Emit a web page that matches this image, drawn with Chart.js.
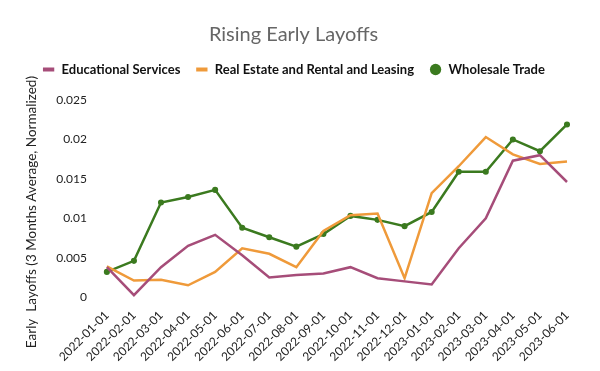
<!DOCTYPE html>
<html>
<head>
<meta charset="utf-8">
<script src="https://cdn.jsdelivr.net/npm/chart.js@4.4.0/dist/chart.umd.min.js"></script>
<style>
  html, body { margin: 0; padding: 0; background: #fff; }
  #wrap { width: 600px; height: 371px; }
</style>
</head>
<body>
<div id="wrap"><canvas id="chart"></canvas></div>
<script>
// Early layoffs, 3-month average, normalized
const months = ['2022-01-01', '2022-02-01', '2022-03-01', '2022-04-01', '2022-05-01', '2022-06-01',
    '2022-07-01', '2022-08-01', '2022-09-01', '2022-10-01', '2022-11-01', '2022-12-01',
    '2023-01-01', '2023-02-01', '2023-03-01', '2023-04-01', '2023-05-01', '2023-06-01'];

const educational = [0.0038, 0.00025, 0.0038, 0.0065, 0.0079, 0.0053, 0.0025, 0.0028, 0.0030,
    0.0038, 0.0024, 0.0020, 0.0016, 0.0062, 0.0100, 0.0173, 0.0180, 0.0146];
const realEstate = [0.0039, 0.0021, 0.0022, 0.0015, 0.0032, 0.0062, 0.0055, 0.0038, 0.0084,
    0.0104, 0.0106, 0.0024, 0.0132, 0.0166, 0.0203, 0.0181, 0.0169, 0.0172];
const wholesale = [0.0032, 0.0046, 0.0120, 0.0127, 0.0136, 0.0088, 0.0076, 0.0064, 0.0080,
    0.0103, 0.0098, 0.0090, 0.0108, 0.0159, 0.0159, 0.0200, 0.0185, 0.0219];

const yTicks = [0, 0.005, 0.01, 0.015, 0.02, 0.025];

const FONT = "'Comic Sans MS', 'Humor Sans', Lato, sans-serif";

// extra room under the legend so the plot starts lower
const legendSpacer = {
    id: 'legendSpacer',
    beforeInit(chart) {
        const fit = chart.legend.fit;
        chart.legend.fit = function () {
            fit.bind(chart.legend)();
            this.height += 14;
        };
    }
};

new Chart(document.getElementById('chart'), {
    type: 'line',
    data: {
        labels: months,
        datasets: [
            {
                label: 'Educational Services',
                data: educational,
                borderColor: '#a64d79',
                backgroundColor: '#a64d79',
                borderWidth: 2.5,
                pointRadius: 0,
                pointStyle: 'line',
                tension: 0
            },
            {
                label: 'Real Estate and Rental and Leasing',
                data: realEstate,
                borderColor: '#ef9a3a',
                backgroundColor: '#ef9a3a',
                borderWidth: 2.5,
                pointRadius: 0,
                pointStyle: 'line',
                tension: 0
            },
            {
                label: 'Wholesale Trade',
                data: wholesale,
                borderColor: '#3b7a1f',
                backgroundColor: '#3b7a1f',
                borderWidth: 2.5,
                pointRadius: 1.8,
                pointStyle: 'circle',
                tension: 0
            }
        ]
    },
    plugins: [legendSpacer],
    options: {
        responsive: true,
        maintainAspectRatio: false,
        animation: false,
        layout: { padding: { left: 20, right: 33, top: 10, bottom: 4 } },
        plugins: {
            title: {
                display: true,
                text: 'Rising Early Layoffs',
                color: '#666',
                font: { family: FONT, size: 20, weight: 'normal' },
                padding: { top: 13, bottom: 1 }
            },
            legend: {
                labels: {
                    usePointStyle: true,
                    boxHeight: 8,
                    color: '#111',
                    font: { family: FONT, size: 13, weight: 'bold' },
                    padding: 15,
                    generateLabels: chart => Chart.defaults.plugins.legend.labels.generateLabels(chart)
                        .map(l => Object.assign(l, { lineWidth: l.pointStyle === 'line' ? 4 : 0 }))
                }
            },
            tooltip: { enabled: false }
        },
        scales: {
            x: {
                grid: { display: false },
                border: { display: false },
                ticks: {
                    color: '#222',
                    minRotation: 45,
                    maxRotation: 45,
                    font: { family: FONT, size: 12 }
                }
            },
            y: {
                min: 0,
                max: 0.025,
                afterBuildTicks: axis => { axis.ticks = yTicks.map(v => ({ value: v })); },
                grid: { display: false },
                border: { display: false },
                title: {
                    display: true,
                    // trailing spaces push the visible text a little lower, as in the original
                    text: 'Early  Layoffs (3 Months Average, Normalized)\u2003\u2003\u2002',
                    color: '#222',
                    font: { family: FONT, size: 13.5 }
                },
                ticks: {
                    color: '#222',
                    padding: 12,
                    font: { family: FONT, size: 12 },
                    callback: v => String(+v.toFixed(3))
                }
            }
        }
    }
});
</script>
</body>
</html>
